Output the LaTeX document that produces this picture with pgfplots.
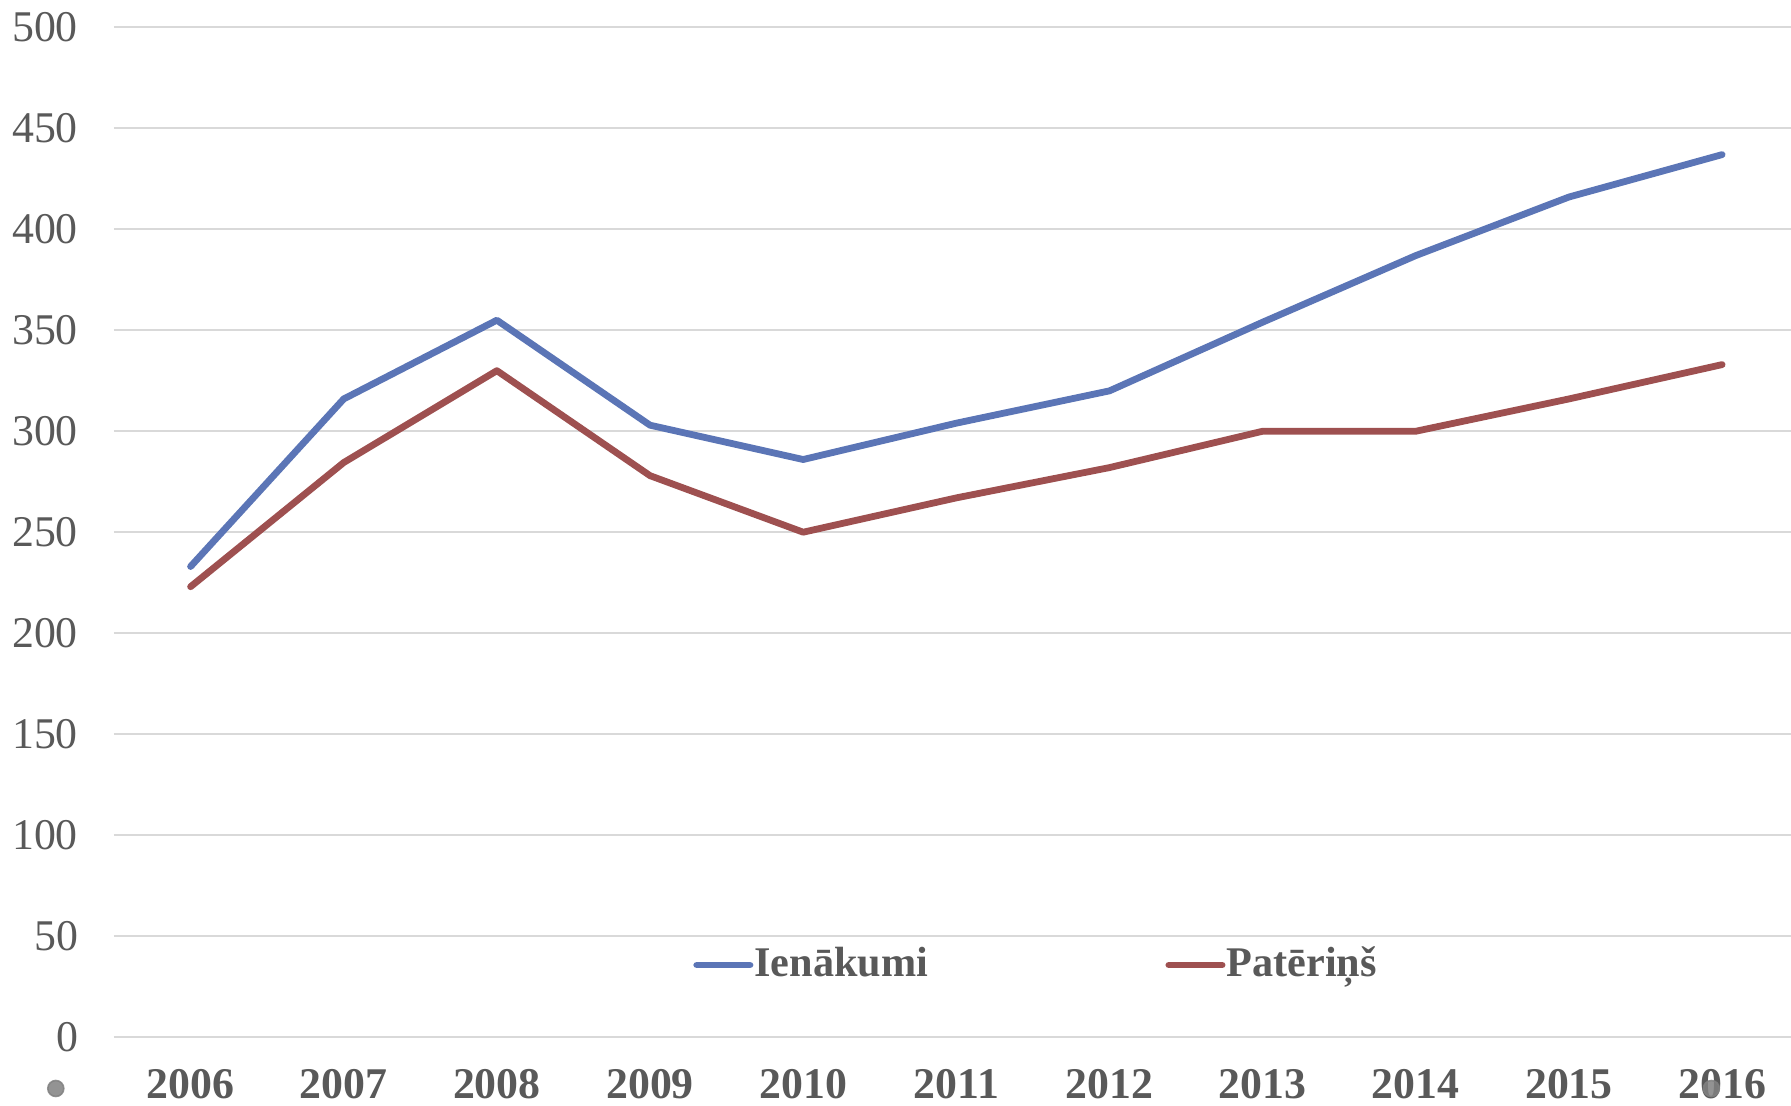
\documentclass[border=0pt]{standalone}
\usepackage{fontspec}
\setmainfont{Liberation Serif}
\usepackage{pgfplots}
\pgfplotsset{compat=1.18}
\definecolor{cblue}{RGB}{91,117,182}
\definecolor{cred}{RGB}{158,80,80}
\definecolor{tgrey}{RGB}{89,89,89}
\definecolor{ggrid}{RGB}{217,217,217}
\definecolor{dotgrey}{RGB}{128,128,128}
\begin{document}
\begin{tikzpicture}
\begin{axis}[
  at={(0,0)}, anchor=south west,
  scale only axis,
  width=419.25bp, height=252.4bp,
  xmin=-0.5, xmax=10.45,
  ymin=0, ymax=500,
  ytick={0,50,...,500},
  xtick={0,...,10},
  xticklabels={2006,2007,2008,2009,2010,2011,2012,2013,2014,2015,2016},
  axis line style={draw=none},
  major tick length=0pt,
  ymajorgrids,
  grid style={ggrid, line width=0.5bp},
  /pgf/number format/assume math mode=true,
  yticklabel style={font=\fontsize{11}{13}\selectfont, text=tgrey, anchor=east, xshift=-5.5bp},
  xticklabel style={font=\bfseries\fontsize{11}{13}\selectfont, text=tgrey, anchor=north, yshift=-4.6bp},
  clip=false,
  legend columns=2,
  legend style={at={(rel axis cs:0.345,0.0713)}, anchor=west, draw=none, fill=none, inner sep=0pt,
    font=\bfseries\fontsize{10.6}{13}\selectfont, text=tgrey,
    /tikz/every even column/.append style={column sep=59bp},
    nodes={inner xsep=0.3bp}},
  legend image code/.code={\draw[#1, line cap=round] (0bp,0bp) -- (13.3bp,0bp);},
]
\addplot[cblue, line width=1.7bp, line cap=round, line join=round] coordinates {
(0,233) (1,316) (2,355) (3,303) (4,286) (5,304) (6,320) (7,354) (8,387) (9,416) (10,437)};
\addlegendentry{Ienākumi}
\addplot[cred, line width=1.7bp, line cap=round, line join=round] coordinates {
(0,223) (1,284.5) (2,330) (3,278) (4,250) (5,267) (6,282) (7,300) (8,300) (9,316) (10,333)};
\addlegendentry{Patēriņš}
\addplot[dotgrey, only marks, mark=*, mark size=2bp, mark options={draw=dotgrey, fill=dotgrey, opacity=0.85}, forget plot] coordinates {(-0.88,-25.5) (9.93,-25.5)};
\end{axis}
\pgfresetboundingbox
\path (-28.5bp,-17.25bp) rectangle (419.25bp,259.25bp);
\end{tikzpicture}
\end{document}
